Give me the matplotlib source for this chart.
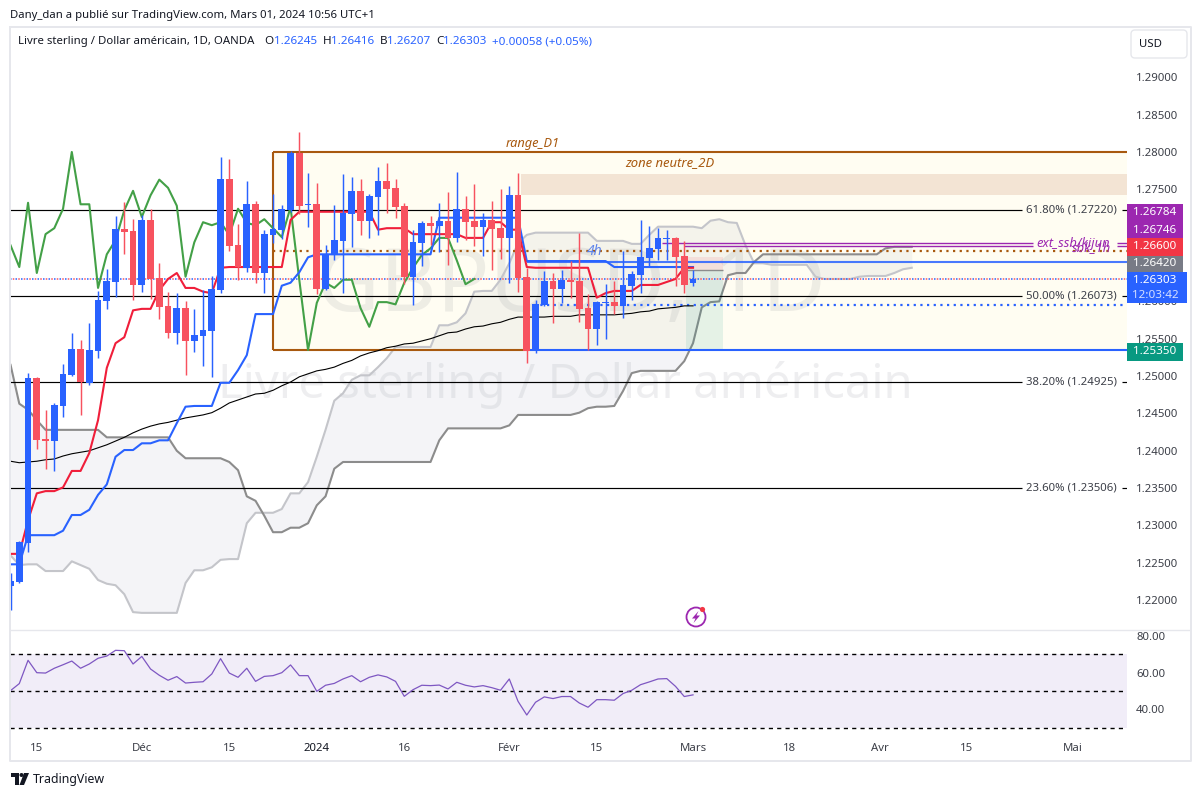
#!/usr/bin/env python3
import matplotlib
matplotlib.use('Agg')
import matplotlib.pyplot as plt
import matplotlib.patches as mpatches
import numpy as np

W, H = 1201, 797

opens = [1.22189, 1.22242, 1.22765, 1.24974, 1.24157, 1.24130, 1.24599, 1.25014, 1.25362, 1.24907,
         1.25335, 1.26005, 1.26260, 1.26969, 1.26942, 1.26219, 1.27089, 1.26313, 1.25938, 1.25576,
         1.25911, 1.25469, 1.25536, 1.25603, 1.26152, 1.27638, 1.26755, 1.26447, 1.27304, 1.26380,
         1.26889, 1.26956, 1.27223, 1.27987, 1.27290, 1.27304, 1.26166, 1.26621, 1.26808, 1.27170,
         1.27478, 1.27076, 1.27397, 1.27612, 1.27518, 1.27277, 1.26326, 1.26782, 1.27049, 1.27009,
         1.27076, 1.26848, 1.27237, 1.27076, 1.26996, 1.27089, 1.26982, 1.26848, 1.27424, 1.26326,
         1.25335, 1.25951, 1.26273, 1.26166, 1.26286, 1.26273, 1.25911, 1.25630, 1.25978, 1.25991,
         1.25938, 1.26206, 1.26353, 1.26581, 1.26701, 1.26835, 1.26848, 1.26607, 1.26245]
highs = [1.22363, 1.22791, 1.25041, 1.24990, 1.24545, 1.24639, 1.25161, 1.25576, 1.25483, 1.25710,
         1.26139, 1.26433, 1.27143, 1.27330, 1.27103, 1.27156, 1.27237, 1.26514, 1.26125, 1.26112,
         1.26005, 1.25898, 1.26152, 1.26340, 1.27933, 1.27906, 1.27036, 1.27612, 1.27344, 1.26956,
         1.27438, 1.27290, 1.28013, 1.28268, 1.27719, 1.27585, 1.26755, 1.27290, 1.27705, 1.27665,
         1.27638, 1.27438, 1.27799, 1.27853, 1.27638, 1.27317, 1.26956, 1.27076, 1.27143, 1.27317,
         1.27464, 1.27732, 1.27411, 1.27572, 1.27183, 1.27344, 1.27505, 1.27545, 1.27719, 1.26447,
         1.26018, 1.26407, 1.26380, 1.26420, 1.26541, 1.26915, 1.26099, 1.26005, 1.26233, 1.26273,
         1.26674, 1.26407, 1.27089, 1.27009, 1.26982, 1.26956, 1.26862, 1.26808, 1.26416]
lows = [1.21867, 1.22229, 1.22644, 1.24023, 1.23755, 1.23729, 1.24452, 1.25001, 1.24478, 1.24880,
        1.25242, 1.25898, 1.26058, 1.26634, 1.26018, 1.26125, 1.26032, 1.25764, 1.25509, 1.25429,
        1.25014, 1.25322, 1.25135, 1.24987, 1.26112, 1.26674, 1.26286, 1.26393, 1.26246, 1.26112,
        1.26782, 1.26835, 1.27197, 1.27170, 1.26996, 1.26099, 1.26152, 1.26554, 1.26112, 1.26728,
        1.26889, 1.26848, 1.26889, 1.27183, 1.27116, 1.26233, 1.25951, 1.26474, 1.26755, 1.26661,
        1.26487, 1.26795, 1.26822, 1.26741, 1.26607, 1.26420, 1.26567, 1.26246, 1.26125, 1.25175,
        1.25309, 1.25938, 1.25710, 1.25978, 1.26045, 1.25724, 1.25349, 1.25416, 1.25496, 1.25831,
        1.25777, 1.26018, 1.26112, 1.26474, 1.26554, 1.26554, 1.26206, 1.26112, 1.26207]
closes = [1.22256, 1.22778, 1.24974, 1.24144, 1.24130, 1.24612, 1.25027, 1.25362, 1.24920, 1.25349,
          1.26018, 1.26273, 1.26969, 1.26929, 1.26219, 1.27089, 1.26300, 1.25925, 1.25576, 1.25911,
          1.25469, 1.25550, 1.25617, 1.26166, 1.27638, 1.26741, 1.26460, 1.27304, 1.26380, 1.26902,
          1.26969, 1.27237, 1.27987, 1.27277, 1.27304, 1.26166, 1.26634, 1.26822, 1.27183, 1.27478,
          1.27076, 1.27411, 1.27612, 1.27505, 1.27264, 1.26326, 1.26795, 1.27049, 1.27009, 1.27076,
          1.26848, 1.27237, 1.27063, 1.26996, 1.27089, 1.26969, 1.26848, 1.27424, 1.26313, 1.25335,
          1.25965, 1.26273, 1.26166, 1.26286, 1.26260, 1.25898, 1.25630, 1.25991, 1.25991, 1.25938,
          1.26219, 1.26366, 1.26594, 1.26715, 1.26848, 1.26848, 1.26594, 1.26219, 1.26303]

tenkan = [1.2262, 1.2262, 1.2307, 1.2343, 1.2346, 1.2346, 1.2351, 1.2373, 1.2373, 1.2397,
          1.2441, 1.2511, 1.2544, 1.2552, 1.2588, 1.2590, 1.2590, 1.2615, 1.2630, 1.2638,
          1.2618, 1.2618, 1.2613, 1.2611, 1.2645, 1.2646, 1.2646, 1.2646, 1.2646, 1.2646,
          1.2646, 1.2646, 1.2709, 1.2720, 1.2720, 1.2720, 1.2720, 1.2720, 1.2720, 1.2720,
          1.2720, 1.2720, 1.2696, 1.2698, 1.2698, 1.2698, 1.2690, 1.2690, 1.2690, 1.2690,
          1.2690, 1.2690, 1.2685, 1.2685, 1.2685, 1.2706, 1.2706, 1.2696, 1.2696, 1.2646,
          1.2645, 1.2645, 1.2645, 1.2645, 1.2645, 1.2645, 1.2645, 1.2605, 1.2611, 1.2614,
          1.2614, 1.2614, 1.2622, 1.2622, 1.2622, 1.2626, 1.2630, 1.2645, 1.2645]
kijun = [1.2248, 1.2248, 1.2287, 1.2287, 1.2287, 1.2287, 1.2293, 1.2314, 1.2314, 1.2321,
         1.2341, 1.2355, 1.2392, 1.2401, 1.2401, 1.2410, 1.2410, 1.2414, 1.2414, 1.2437,
         1.2459, 1.2460, 1.2460, 1.2460, 1.2491, 1.2491, 1.2508, 1.2528, 1.2583, 1.2583,
         1.2583, 1.2621, 1.2625, 1.2639, 1.2659, 1.2663, 1.2663, 1.2663, 1.2663, 1.2663,
         1.2663, 1.2663, 1.2663, 1.2663, 1.2663, 1.2663, 1.2663, 1.2663, 1.2663, 1.2712,
         1.2712, 1.2712, 1.2712, 1.2712, 1.2712, 1.2712, 1.2712, 1.2712, 1.2712, 1.2654,
         1.2654, 1.2654, 1.2654, 1.2654, 1.2654, 1.2654, 1.2654, 1.2654, 1.2654, 1.2646,
         1.2646, 1.2646, 1.2646, 1.2646, 1.2646, 1.2646, 1.2646, 1.2646, 1.2646]
chikou = [1.2675, 1.2646, 1.2732, 1.2638, 1.2690, 1.2698, 1.2724, 1.2800, 1.2730, 1.2730,
          1.2618, 1.2663, 1.2682, 1.2722, 1.2748, 1.2713, 1.2742, 1.2763, 1.2752, 1.2728,
          1.2633, 1.2679, 1.2706, 1.2702, 1.2706, 1.2689, 1.2724, 1.2705, 1.2702, 1.2710,
          1.2698, 1.2686, 1.2726, 1.2629, 1.2535, 1.2598, 1.2625, 1.2618, 1.2629, 1.2629,
          1.2591, 1.2566, 1.2599, 1.2599, 1.2596, 1.2625, 1.2645, 1.2662, 1.2671, 1.2685,
          1.2685, 1.2655, 1.2623, 1.2630]
span_dark = [1.2515, 1.2463, 1.2455, 1.2441, 1.2428, 1.2428, 1.2428, 1.2428, 1.2428, 1.2428,
             1.2428, 1.2418, 1.2418, 1.2418, 1.2418, 1.2418, 1.2418, 1.2418, 1.2418, 1.2400,
             1.2390, 1.2390, 1.2390, 1.2390, 1.2390, 1.2385, 1.2374, 1.2339, 1.2333, 1.2313,
             1.2291, 1.2291, 1.2297, 1.2297, 1.2303, 1.2327, 1.2339, 1.2376, 1.2385, 1.2385,
             1.2385, 1.2385, 1.2385, 1.2385, 1.2385, 1.2385, 1.2385, 1.2385, 1.2385, 1.2414,
             1.2430, 1.2430, 1.2430, 1.2430, 1.2430, 1.2430, 1.2430, 1.2434, 1.2448, 1.2448,
             1.2448, 1.2448, 1.2448, 1.2448, 1.2448, 1.2451, 1.2457, 1.2459, 1.2459, 1.2460,
             1.2480, 1.2504, 1.2507, 1.2507, 1.2507, 1.2507, 1.2507, 1.2520, 1.2544, 1.2592,
             1.2599, 1.2600, 1.2635, 1.2638, 1.2638, 1.2653, 1.2663, 1.2663, 1.2663, 1.2663,
             1.2663, 1.2663, 1.2663, 1.2663, 1.2663, 1.2663, 1.2663, 1.2663, 1.2663, 1.2663,
             1.2671, 1.2673, 1.2673, 1.2673]
span_light = [1.2260, 1.2247, 1.2248, 1.2248, 1.2239, 1.2239, 1.2239, 1.2252, 1.2247, 1.2242,
              1.2227, 1.2222, 1.2220, 1.2208, 1.2184, 1.2183, 1.2183, 1.2183, 1.2183, 1.2183,
              1.2223, 1.2240, 1.2240, 1.2244, 1.2254, 1.2255, 1.2255, 1.2303, 1.2317, 1.2317,
              1.2317, 1.2322, 1.2343, 1.2343, 1.2358, 1.2392, 1.2428, 1.2467, 1.2477, 1.2495,
              1.2501, 1.2501, 1.2512, 1.2524, 1.2539, 1.2539, 1.2539, 1.2539, 1.2539, 1.2568,
              1.2568, 1.2572, 1.2584, 1.2613, 1.2614, 1.2614, 1.2629, 1.2651, 1.2678, 1.2689,
              1.2692, 1.2692, 1.2692, 1.2692, 1.2692, 1.2692, 1.2692, 1.2681, 1.2681, 1.2681,
              1.2681, 1.2677, 1.2677, 1.2689, 1.2700, 1.2700, 1.2700, 1.2700, 1.2700, 1.2698,
              1.2708, 1.2710, 1.2706, 1.2705, 1.2675, 1.2651, 1.2651, 1.2649, 1.2649, 1.2649,
              1.2649, 1.2649, 1.2633, 1.2630, 1.2630, 1.2630, 1.2630, 1.2633, 1.2634, 1.2634,
              1.2634, 1.2638, 1.2643, 1.2645]
long_ma = [1.2386, 1.2384, 1.2385, 1.2386, 1.2388, 1.2389, 1.2393, 1.2396, 1.2398, 1.2400,
           1.2404, 1.2408, 1.2413, 1.2418, 1.2424, 1.2429, 1.2433, 1.2436, 1.2438, 1.2441,
           1.2444, 1.2446, 1.2448, 1.2451, 1.2457, 1.2464, 1.2468, 1.2472, 1.2476, 1.2477,
           1.2481, 1.2487, 1.2492, 1.2499, 1.2503, 1.2507, 1.2509, 1.2512, 1.2517, 1.2521,
           1.2527, 1.2531, 1.2534, 1.2538, 1.2540, 1.2543, 1.2544, 1.2547, 1.2550, 1.2554,
           1.2558, 1.2559, 1.2563, 1.2566, 1.2567, 1.2570, 1.2572, 1.2576, 1.2579, 1.2579,
           1.2579, 1.2579, 1.2580, 1.2580, 1.2580, 1.2582, 1.2582, 1.2582, 1.2582, 1.2582,
           1.2583, 1.2584, 1.2586, 1.2587, 1.2590, 1.2591, 1.2592, 1.2594, 1.2594]
rsi = [50.2, 54.0, 66.6, 59.9, 59.7, 62.3, 64.2, 66.2, 62.3, 64.6,
       67.7, 68.9, 72.0, 71.8, 64.6, 68.7, 61.9, 58.5, 55.8, 57.8,
       54.3, 54.7, 55.0, 59.2, 67.5, 59.7, 57.4, 62.3, 55.2, 57.9,
       58.3, 59.9, 64.1, 58.3, 58.3, 49.8, 53.1, 54.1, 56.5, 58.3,
       55.0, 57.4, 58.7, 57.6, 55.2, 47.1, 50.7, 53.1, 52.9, 53.2,
       51.1, 54.7, 53.1, 52.2, 52.9, 51.8, 50.4, 56.5, 44.4, 37.0,
       43.9, 46.8, 45.9, 47.0, 47.0, 43.5, 41.2, 45.3, 45.3, 45.0,
       48.6, 50.4, 53.4, 54.9, 56.5, 56.7, 52.5, 47.0, 47.9]

fib_levels = [1.27220, 1.26073, 1.24925, 1.23506]
fib_labels = ['61.80% (1.27220)', '50.00% (1.26073)', '38.20% (1.24925)', '23.60% (1.23506)']
# 1.265 and 1.270 sit fully under the price badges in the original
price_ticks = [1.22, 1.225, 1.23, 1.235, 1.24, 1.245, 1.25, 1.255, 1.26, 1.275, 1.28, 1.285, 1.29]
rsi_ticks = [40, 60, 80]
time_ticks = [3, 15, 25, 35, 45, 57, 67, 78, 89, 99.3, 109.3, 121.4]
time_labels = ['15', 'Déc', '15', '2024', '16', 'Févr', '15', 'Mars', '18', 'Avr', '15', 'Mai']
badge_labels = ['1.26784', '1.26746', '1.26600', '1.26420', '1.25350']
badge_colors = ['#9c27b0', '#9c27b0', '#f23645', '#787b86', '#089981']

BLUE = '#2962ff'
RED = '#f7525f'
BROWN = '#a8590f'
PURPLE = '#9c27b0'
TEXT = '#131722'
FONT = 'Noto Sans'

plt.rcParams['font.family'] = FONT


def pane(left, top, right, bottom, **kwargs):
    # axes placed in reference pixels
    return fig.add_axes([left / W, 1 - bottom / H, (right - left) / W, (bottom - top) / H], **kwargs)


fig = plt.figure(figsize=(W / 100, H / 100), dpi=100, facecolor='white')

ax = pane(10, 28, 1127, 629)
ax_rsi = pane(10, 630, 1127, 737, sharex=ax)
over = pane(0, 0, W, H, zorder=10)
over.set_xlim(0, W)
over.set_ylim(H, 0)
over.axis('off')
over.patch.set_alpha(0)

# price pane
ax.set_xlim(-0.063, 127.6)
ax.set_ylim(1.21614, 1.2966)
x_end = 127.6

# range box and zones
ax.add_patch(mpatches.Rectangle((30, 1.2535), x_end - 30, 0.0265, fc='#fffdf2', ec='none', zorder=0.5))
ax.add_patch(mpatches.Rectangle((58.3, 1.2743), x_end - 58.3, 0.0028, fc='#f3e4d4', ec='none', zorder=0.6))

ax.text(64, 1.2618, 'GBPUSD, 1D', fontsize=63, color='#787b86', alpha=0.12, ha='center', va='center', zorder=1)
ax.text(63.4, 1.2488, 'Livre sterling / Dollar américain', fontsize=34, color='#787b86', alpha=0.12,
        ha='center', va='center', zorder=1)

# ichimoku cloud
cloud_x = np.arange(len(span_dark))
ax.fill_between(cloud_x, span_dark, span_light, color='#8a8fa8', alpha=0.09, lw=0, zorder=2)
ax.plot(cloud_x, span_light, color='#c4c5ca', lw=1.5, zorder=2.1)
ax.plot(cloud_x, span_dark, color='#8c8c8c', lw=1.5, zorder=2.1)

# position tool
ax.add_patch(mpatches.Rectangle((77.2, 1.2642), 4.2, 0.0018, fc='#f23645', alpha=0.1, ec='none', zorder=2.2))
ax.add_patch(mpatches.Rectangle((77.2, 1.2535), 4.2, 0.0107, fc='#089981', alpha=0.1, ec='none', zorder=2.2))
ax.hlines(1.2642, 77.2, 81.4, color='#8c8c8c', lw=1, zorder=2.3)

# fibonacci levels, broken around their labels
ax.hlines(fib_levels, -0.1, 115.6, color='black', lw=0.85, zorder=3)
ax.hlines(fib_levels, 127.0, x_end, color='black', lw=0.85, zorder=3)
for level, label in zip(fib_levels, fib_labels):
    ax.text(116.1, level, label, fontsize=8.2, color='#3c3f48', va='center', ha='left', zorder=3)

# horizontal rays
ax.hlines(1.2800, 30, x_end, color=BROWN, lw=1.5, zorder=3)
ax.hlines(1.2535, 30, 59, color=BROWN, lw=1.5, zorder=3)
ax.vlines(30, 1.2535, 1.2800, color=BROWN, lw=1.5, zorder=3)
ax.hlines(1.2535, 59, x_end, color=BLUE, lw=1.5, zorder=3)
ax.hlines(1.2653, 59, x_end, color=BLUE, lw=1.5, alpha=0.85, zorder=3)
ax.hlines(1.2667, 30, x_end, color=BROWN, lw=1.6, linestyles=[(0, (1, 2))], zorder=3)
ax.hlines(1.2595, 59, x_end, color=BLUE, lw=1.6, linestyles=[(0, (1, 2))], zorder=3)
ax.hlines(1.26784, 74.5, 116.8, color=PURPLE, lw=1, zorder=3)
ax.hlines(1.26746, 77, 116.8, color=PURPLE, lw=1, zorder=3)
ax.hlines([1.26784, 1.26746], 126.4, x_end, color=PURPLE, lw=1, zorder=3)
ax.hlines(closes[-1], -0.1, x_end, color=BLUE, lw=1.1, linestyles=[(0, (1, 2.6))], zorder=3)
ax.hlines(closes[-1], -0.1, x_end, color=RED, lw=1.1, linestyles=[(1.8, (1, 2.6))], zorder=3)

# indicators
ax.plot(np.arange(len(long_ma)), long_ma, color='black', lw=0.8, zorder=3.5)
ax.plot(np.arange(len(chikou)), chikou, color='#43a047', lw=1.5, zorder=3.6)
ax.plot(np.arange(len(kijun)), kijun, color=BLUE, lw=1.5, zorder=3.7)
ax.plot(np.arange(len(tenkan)), tenkan, color='#f01e3a', lw=1.5, zorder=3.8)

# candles
opens_arr = np.array(opens)
closes_arr = np.array(closes)
bar_x = np.arange(len(opens))
colors = [BLUE if c >= o else RED for o, c in zip(opens, closes)]
ax.vlines(bar_x, lows, highs, colors=colors, lw=1.05, zorder=4)
bottoms = np.minimum(opens_arr, closes_arr)
heights = np.maximum(np.abs(closes_arr - opens_arr), 0.00013)
ax.bar(bar_x, heights, bottom=bottoms, width=0.78, color=colors, lw=0, zorder=4.1)

# labels on the drawing
ax.text(59.7, 1.28115, 'range_D1', fontsize=9.2, style='italic', color=BROWN, ha='center', va='center', zorder=5)
ax.text(75.3, 1.27855, 'zone neutre_2D', fontsize=9.4, style='italic', color=BROWN, ha='center', va='center', zorder=5)
ax.text(66.8, 1.26668, '4h', fontsize=10, style='italic', weight='bold', color='#5c83ec', ha='center', va='center', zorder=5)
ax.text(117.2, 1.26780, 'ext_ssb/kijun', fontsize=9.3, style='italic', color=PURPLE, ha='left', va='center', zorder=5)
ax.text(121.3, 1.26725, 'sbk_1h', fontsize=9.3, style='italic', color=PURPLE, ha='left', va='center', zorder=5)

ax.yaxis.tick_right()
ax.set_yticks(price_ticks)
ax.set_yticklabels(['%.5f' % p for p in price_ticks])
ax.tick_params(axis='y', length=0, pad=6.5, labelsize=8.2, labelcolor='#3c3f48')
ax.tick_params(axis='x', length=0, labelbottom=False)
for side in ax.spines:
    ax.spines[side].set_visible(False)

# rsi pane
ax_rsi.set_ylim(25.1, 83)
ax_rsi.axhspan(30, 70, color='#7e57c2', alpha=0.1, lw=0, zorder=1)
ax_rsi.hlines([70, 50, 30], -0.1, x_end, color='black', lw=1, linestyles=[(0, (3, 3))], zorder=2)
ax_rsi.plot(np.arange(len(rsi)), rsi, color='#7e57c2', lw=0.9, zorder=3)
ax_rsi.yaxis.tick_right()
ax_rsi.set_yticks(rsi_ticks)
ax_rsi.set_yticklabels(['%.2f' % v for v in rsi_ticks])
ax_rsi.tick_params(axis='y', length=0, pad=6.5, labelsize=8.2, labelcolor='#3c3f48')
ax_rsi.set_xticks(time_ticks)
ax_rsi.set_xticklabels(time_labels)
ax_rsi.tick_params(axis='x', length=0, pad=4, labelsize=8.2, labelcolor='#3c3f48', labelbottom=True)
ax_rsi.get_xticklabels()[3].set_fontweight('bold')
ax_rsi.get_xticklabels()[3].set_color(TEXT)
for side in ax_rsi.spines:
    ax_rsi.spines[side].set_visible(False)

# frame
frame = '#e6e7ec'
over.plot([10, 1190.5, 1190.5, 10, 10], [26.5, 26.5, 761, 761, 26.5], color=frame, lw=1.4)
over.plot([10, 1190], [629.5, 629.5], color=frame, lw=1)

# price badges
badge_tops = [204, 221.5, 238, 255.5, 343]
for top, label, color in zip(badge_tops, badge_labels, badge_colors):
    over.add_patch(mpatches.Rectangle((1127, top), 56, 17.5, fc=color, ec='none'))
    over.text(1155, top + 8.5, label, color='white', fontsize=8.4, weight='medium', ha='center', va='center')
over.add_patch(mpatches.Rectangle((1127, 272), 60, 30.5, fc=BLUE, ec='none'))
over.text(1155, 280.5, '1.26303', color='white', fontsize=8.4, ha='center', va='center')
over.text(1155, 295, '12:03:42', color='#d4dfff', fontsize=8.4, ha='center', va='center')

# currency button
over.add_patch(mpatches.FancyBboxPatch((1134, 33), 50, 22, boxstyle='round,pad=3,rounding_size=4',
                                       fc='white', ec='#e6e7ec', lw=1))
over.text(1151, 44, 'USD', fontsize=8.2, color=TEXT, ha='center', va='center')

# header
over.text(10, 15, 'Dany_dan a publié sur TradingView.com, Mars 01, 2024 10:56 UTC+1', fontsize=8.15,
          color=TEXT, va='center')
over.text(18.5, 41.5, 'Livre sterling / Dollar américain, 1D, OANDA', fontsize=8.2, color=TEXT, va='center')
header_x = [264, 274, 323, 331, 380, 387, 436, 443, 492]
header_parts = ['O', '1.26245', 'H', '1.26416', 'B', '1.26207', 'C', '1.26303', '+0.00058 (+0.05%)']
for x, part in zip(header_x, header_parts):
    over.text(x, 41.5, part, fontsize=8.4, va='center', color=TEXT if len(part) == 1 else BLUE)

# flash icon
over.add_patch(mpatches.Circle((696, 617), 9.5, fc='white', ec=PURPLE, lw=1.3))
over.add_patch(mpatches.Polygon([(698.5, 611), (692, 618.5), (695.5, 618.5), (693.5, 623), (700, 615.5),
                                 (696.5, 615.5)], fc=PURPLE, ec='none'))
over.add_patch(mpatches.Circle((702.5, 609.5), 2.6, fc='#f23645', ec='none'))

# tradingview mark
over.add_patch(mpatches.Polygon([(11, 773), (19, 773), (19, 785), (15, 785), (15, 777), (11, 777)], fc=TEXT, ec='none'))
over.add_patch(mpatches.Circle((21.5, 775), 2, fc=TEXT, ec='none'))
over.add_patch(mpatches.Polygon([(24, 773), (29, 773), (24, 785), (19.5, 785)], fc=TEXT, ec='none'))
over.text(33, 779, 'TradingView', fontsize=8.9, color=TEXT, va='center')

fig.savefig('out.png', dpi=100, facecolor='white')
